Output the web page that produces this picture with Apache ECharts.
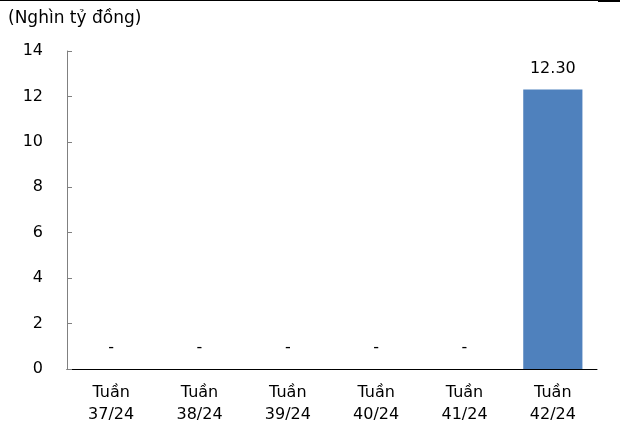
<!DOCTYPE html>
<html>
<head>
<meta charset="utf-8">
<script src="https://cdn.jsdelivr.net/npm/echarts@6/dist/echarts.min.js"></script>
<style>
  html, body { margin: 0; padding: 0; background: #fff; }
  #chart { width: 620px; height: 434px; }
</style>
</head>
<body>
<div id="chart"></div>
<script>
// Weekly values, thousand billion VND
const unitLabel = '(Nghìn tỷ đồng)';
const weeks = ['Tuần\n37/24', 'Tuần\n38/24', 'Tuần\n39/24', 'Tuần\n40/24', 'Tuần\n41/24', 'Tuần\n42/24'];
const values = [0, 0, 0, 0, 0, 12.30];

const FONT = 'DejaVu Sans';
const chart = echarts.init(document.getElementById('chart'), null, { renderer: 'canvas' });

chart.setOption({
  animation: false,
  backgroundColor: '#ffffff',
  textStyle: { fontFamily: FONT, color: '#000' },
  grid: { left: 67, right: 23, top: 51, bottom: 65, containLabel: false },
  graphic: [
    { type: 'line', shape: { x1: 0, y1: 0.5, x2: 598, y2: 0.5 }, style: { stroke: '#000', lineWidth: 1 } },
    { type: 'rect', shape: { x: 598, y: 0, width: 22, height: 2 }, style: { fill: '#000' } },
    { type: 'text', left: 8, top: 10, style: { text: unitLabel, font: '17px "' + FONT + '"', fill: '#000' } }
  ],
  xAxis: {
    type: 'category',
    data: weeks,
    axisLine: { lineStyle: { color: '#000', width: 1 } },
    axisTick: { show: false },
    axisLabel: { color: '#000', fontSize: 16, fontFamily: FONT, lineHeight: 22, margin: 13 }
  },
  yAxis: {
    type: 'value',
    min: 0, max: 14, interval: 2,
    splitLine: { show: false },
    axisLine: { show: true, lineStyle: { color: '#808080', width: 1 } },
    axisTick: { show: true, inside: true, length: 5, lineStyle: { color: '#808080' } },
    axisLabel: { color: '#000', fontSize: 16, fontFamily: FONT, margin: 24 }
  },
  series: [{
    type: 'bar',
    data: values,
    barWidth: '67%',
    itemStyle: { color: '#4f81bd' },
    label: {
      show: true,
      position: 'top',
      distance: 13,
      color: '#000',
      fontSize: 16,
      fontFamily: FONT,
      formatter: p => p.value === 0 ? '-' : p.value.toFixed(2)
    }
  }]
});
</script>
</body>
</html>
